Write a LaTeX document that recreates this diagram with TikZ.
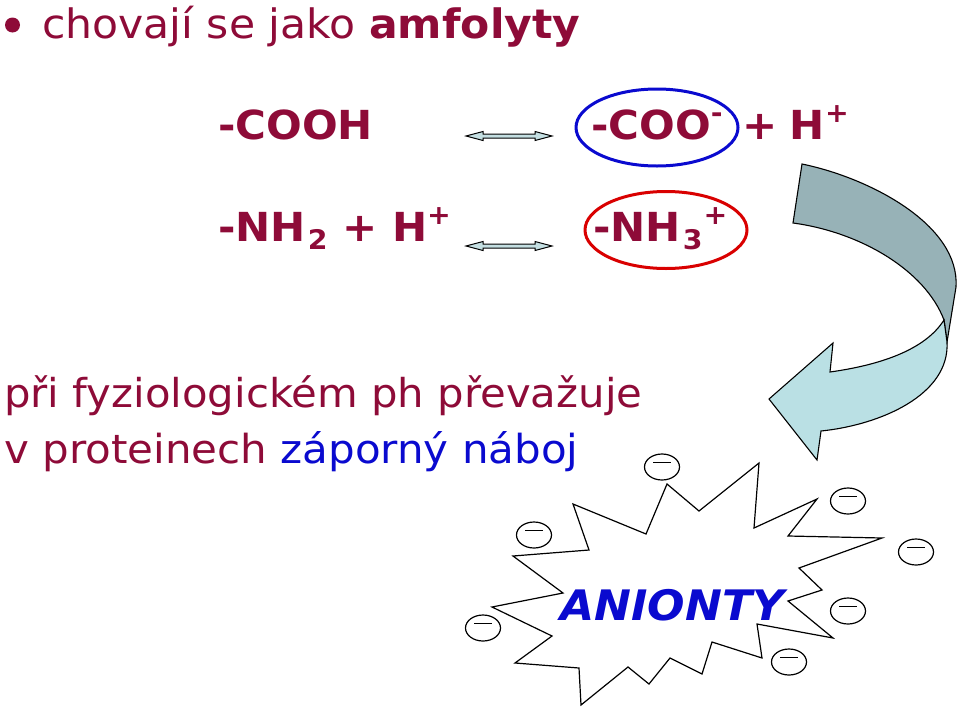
\documentclass[tikz,border=0pt]{standalone}
\usepackage{fontspec}
\setmainfont[FakeStretch=1.05]{DejaVu Sans}
\usetikzlibrary{shapes.geometric}
\definecolor{vino}{HTML}{8E0B38}
\definecolor{modra}{HTML}{0A0ACF}
\definecolor{ruka}{HTML}{C4DFE2}
\definecolor{pas}{HTML}{BAE0E4}
\definecolor{stin}{HTML}{97B2B7}
\newcommand{\nah}[1]{\raisebox{.42em}{\fontsize{27}{27}\selectfont #1}}
\newcommand{\dol}[1]{\raisebox{-.2em}{\fontsize{27}{27}\selectfont #1}}
\tikzset{
  txt/.style={anchor=base west,inner sep=0pt,font=\fontsize{40}{40}\selectfont,text=vino},
  chem/.style={txt,font=\fontsize{40}{40}\selectfont\bfseries},
  naboj/.style={draw,ellipse,line width=1.2pt,minimum width=35pt,minimum height=26pt,inner sep=0pt},
  kruh/.style={draw,ellipse,line width=3pt,inner sep=0pt,minimum width=162pt,minimum height=77pt}
}
\begin{document}
\begin{tikzpicture}[x=1pt,y=-1pt,line join=miter]
\useasboundingbox (0,0) rectangle (960,707);
\node[circle,fill=vino,inner sep=0pt,minimum size=15pt] (bullet) at (12.5,25) {};
\node[txt,font=\fontsize{40.5}{40}\selectfont] (uvod) at (42,38) {chovají se jako \textbf{amfolyty}};
\node[kruh,draw=modra] (kruhA) at (657,127.5) {};
\node[kruh,draw=red!85!black] (kruhB) at (666,230) {};
\node[chem] (cooh) at (218,139) {-COOH};
\node[chem] (coo) at (591,139) {-COO\nah{-}\kern5pt\ +\kern-3pt\ H\kern1pt\nah{+}};
\node[chem] (nh2) at (218,241) {-NH\kern2pt\dol{2} + H\nah{+}};
\node[chem] (nh3) at (593,241) {-NH\kern2pt\dol{3}\kern1pt\nah{+}};
% sipky rovnovahy
\foreach \y in {136,246}{
  \draw[fill=ruka,line width=1pt] (466,\y)--(483,\y-4.5)--(483,\y-2)--(535,\y-2)--(535,\y-4.5)--(552,\y)--(535,\y+4.5)--(535,\y+2)--(483,\y+2)--(483,\y+4.5)--cycle;
}
\node[txt,font=\fontsize{39.8}{40}\selectfont] (veta1) at (4,407) {při fyziologickém ph převažuje};
\node[txt] (veta2) at (4,463) {v proteinech \textcolor{modra}{záporný náboj}};
% stocena sipka
\draw[fill=stin,line width=1.1pt] (802,164) .. controls (870,178) and (960,225) .. (956,287)--(947,342)--(944,320) .. controls (925,270) and (860,232) .. (793,223)--cycle;
\draw[fill=pas,line width=1.1pt] (944,320) .. controls (925,350) and (880,365) .. (830,372)--(833,343)--(769,399)--(817,460)--(821,431) .. controls (880,425) and (950,395) .. (947,342)--cycle;
% hvezda
\draw[fill=white,line width=1.2pt] (667,484)--(699,511)--(759,463)--(754,528)--(817,499)--(788,536)--(882,538)--(799,568)--(822,590)--(788,601)--(833,638)--(757,624)--(762,658)--(712,642)--(702,674)--(670,658)--(649,684)--(628,667)--(581,705)--(579,668)--(515,663)--(552,636)--(492,607)--(563,593)--(513,556)--(589,550)--(573,504)--(646,534)--cycle;
\node[chem,text=modra,font=\fontsize{42}{42}\selectfont\bfseries\itshape] (anionty) at (560,620) {ANIONTY};
\foreach \x/\y [count=\i] in {662/467,534/535,483/628,848/501,916/552,848/611,789/662}{
  \node[naboj] (n\i) at (\x,\y) {};
  \draw[line width=1.2pt] (\x-9,\y-4.5)--(\x+9,\y-4.5);
}
\end{tikzpicture}
\end{document}
